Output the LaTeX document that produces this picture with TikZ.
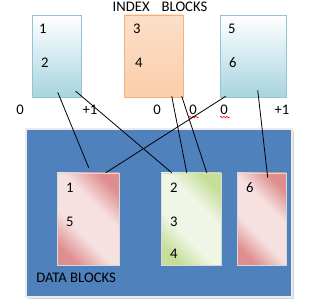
\documentclass[tikz,border=0pt]{standalone}
\usepackage{fontspec}
\setmainfont{Carlito}
\usepackage{tikz}
\usetikzlibrary{calc,shadows,decorations.pathmorphing}
\definecolor{idxblue}{RGB}{168,212,224}
\definecolor{idxedge}{RGB}{146,196,212}
\definecolor{idxorange}{RGB}{250,206,170}
\definecolor{orangeedge}{RGB}{242,178,128}
\definecolor{panel}{RGB}{79,129,189}
\definecolor{datared}{RGB}{222,142,142}
\definecolor{datapink}{RGB}{246,224,224}
\definecolor{datagreen}{RGB}{198,222,152}
\definecolor{datalight}{RGB}{240,246,230}
\newcommand{\txt}{\fontsize{11pt}{13pt}\selectfont}
\pgfdeclarehorizontalshading{redblk}{100bp}{color(0bp)=(datared); color(24bp)=(datared);
  color(40bp)=(datapink); color(60bp)=(datapink); color(76bp)=(datared); color(100bp)=(datared)}
\pgfdeclarehorizontalshading{greenblk}{100bp}{color(0bp)=(datagreen); color(24bp)=(datagreen);
  color(40bp)=(datalight); color(60bp)=(datalight); color(76bp)=(datagreen); color(100bp)=(datagreen)}

\begin{document}
\begin{tikzpicture}[
  x=0.75pt, y=-0.75pt,
  idx/.style={draw=idxedge, top color=white, bottom color=idxblue,
              minimum height=61.5pt, inner sep=0pt},
  blk/.style={draw=white!85!black, minimum height=69pt, inner sep=0pt,
              shading=#1, shading angle=45},
  num/.style={font=\txt, inner sep=0pt},
  link/.style={draw=black, line width=0.6pt},
  wavy/.style={draw=red, line width=0.4pt,
               decorate, decoration={snake, segment length=2.2pt, amplitude=0.6pt}},
]
  \useasboundingbox (0,0) rectangle (332,306);

  % index blocks
  \node[num] (title) at (160,7) {INDEX\hspace{9pt}BLOCKS};
  \node[idx, minimum width=36.75pt] (ib1) at (56.5,56) {};
  \node[idx, minimum width=44.25pt, draw=orangeedge, top color=idxorange!65,
        bottom color=idxorange] (ib2) at (153.5,56) {};
  \node[idx, minimum width=49.5pt] (ib3) at (253,56) {};

  \node[num] (i1) at ($(ib1.north west)+(11,14)$) {1};
  \node[num] (i2) at ($(ib1.north west)+(13,48)$) {2};
  \node[num] (i3) at ($(ib2.north west)+(13,14)$) {3};
  \node[num] (i4) at ($(ib2.north west)+(15,48)$) {4};
  \node[num] (i5) at ($(ib3.north west)+(12,14)$) {5};
  \node[num] (i6) at ($(ib3.north west)+(13,48)$) {6};

  % offsets
  \node[num] (o1) at (20,110) {0};
  \node[num] (o2) at (90,110) {+1};
  \node[num] (o3) at (157,110) {0};
  \node[num] (o4) at (193,110) {0};
  \node[num] (o5) at (224,110) {0};
  \node[num] (o6) at (282,110) {+1};
  \draw[wavy] ($(o4.south west)+(0,2)$) -- ($(o4.south east)+(2,2)$);
  \draw[wavy] ($(o5.south west)+(0,2)$) -- ($(o5.south east)+(2,2)$);

  % data area
  \node[draw=black!8, line width=2.2pt, fill=panel, minimum width=199.5pt,
        minimum height=126pt, inner sep=0pt,
        drop shadow={opacity=0.35, shadow xshift=1.2pt, shadow yshift=-1.2pt}]
        (area) at (159,213) {};

  \node[blk=redblk, minimum width=46.5pt] (db1) at (88,219) {};
  \node[blk=greenblk, minimum width=45pt] (db2) at (191,219) {};
  \node[blk=redblk, minimum width=36.75pt] (db3) at (261.5,219) {};

  \node[num] (d1) at ($(db1.north west)+(13,15)$) {1};
  \node[num] (d5) at ($(db1.north west)+(13,49)$) {5};
  \node[num] (d2) at ($(db2.north west)+(13,15)$) {2};
  \node[num] (d3) at ($(db2.north west)+(13,49)$) {3};
  \node[num] (d4) at ($(db2.north west)+(13,81)$) {4};
  \node[num] (d6) at ($(db3.north west)+(13,15)$) {6};

  \node[num, anchor=west] (data) at (36,278) {DATA BLOCKS};

  % pointers
  \coordinate (p1) at ($(ib1.south west)+(26,-5)$);
  \coordinate (p2) at ($(ib1.south west)+(44,-6)$);
  \coordinate (p3) at ($(ib2.south west)+(48,-1)$);
  \coordinate (p4) at ($(ib2.south west)+(58,-1)$);
  \coordinate (p5) at ($(ib3.south west)+(6,-1)$);
  \coordinate (p6) at ($(ib3.south west)+(38,-7)$);
  \coordinate (q1) at ($(db1.north west)+(32,-5)$);
  \coordinate (q2) at ($(db2.north west)+(11,0)$);
  \coordinate (q3) at ($(db2.north west)+(26,0)$);
  \coordinate (q4) at ($(db2.north west)+(46,0)$);
  \coordinate (q5) at ($(db1.north west)+(49,0)$);
  \coordinate (q6) at ($(db3.north west)+(31,5)$);

  \draw[link] (p1) -- (q1);
  \draw[link] (p2) -- (q2);
  \draw[link] (p3) -- (q3);
  \draw[link] (p4) -- (q4);
  \draw[link] (p5) -- (q5);
  \draw[link] (p6) -- (q6);
\end{tikzpicture}
\end{document}
